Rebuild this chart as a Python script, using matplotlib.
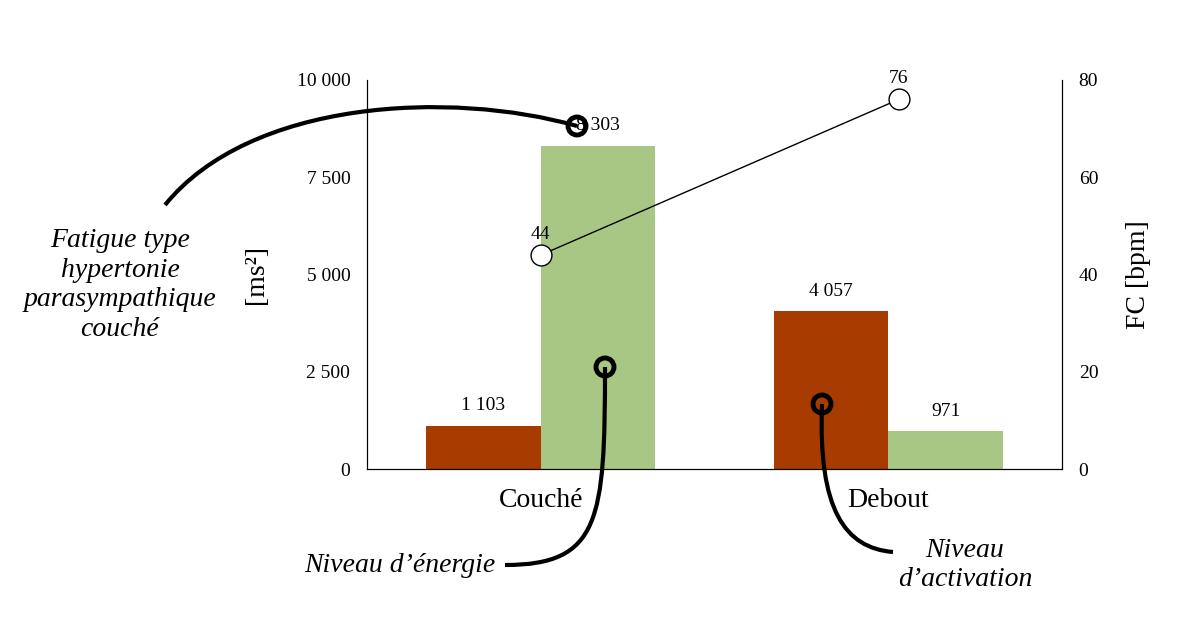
import matplotlib
matplotlib.use("Agg")
import matplotlib.pyplot as plt
from matplotlib.path import Path
from matplotlib.patches import PathPatch, Ellipse

categories = ["Couché", "Debout"]
lf_values = [1103, 4057]
hf_values = [8303, 971]
hr_values = [44, 76]
left_ticks = [0, 2500, 5000, 7500, 10000]
left_labels = ["0", "2 500", "5 000", "7 500", "10 000"]
right_ticks = [0, 20, 40, 60, 80]

plt.rcParams['font.family'] = ['Liberation Serif', 'DejaVu Serif']
W, H = 1200, 618
fig = plt.figure(figsize=(12, 6.18), dpi=100)
ax = fig.add_axes([367/W, 1-469/H, 695/W, 389/H])
x = [0, 1]
bw = 0.33
red, green = "#A83C00", "#A9C784"
ax.bar([i - bw/2 for i in x], lf_values, bw, color=red)
ax.bar([i + bw/2 for i in x], hf_values, bw, color=green)
for i in x:
    ax.text(i - bw/2, lf_values[i] + 300, f"{lf_values[i]:,}".replace(",", " "), ha="center", va="bottom", fontsize=14)
    ax.text(i + bw/2, hf_values[i] + 300, f"{hf_values[i]:,}".replace(",", " "), ha="center", va="bottom", fontsize=14)
ax.set_xlim(-0.5, 1.5)
ax.set_ylim(0, 10000)
ax.set_yticks(left_ticks)
ax.set_yticklabels(left_labels, fontsize=14)
ax.set_xticks(x)
ax.set_xticklabels(categories, fontsize=20)
ax.tick_params(length=0, pad=12)
ax.tick_params(axis='x', pad=14)
ax.spines["top"].set_visible(False)
ax.set_ylabel("[ms²]", fontsize=20, labelpad=20)

ax2 = ax.twinx()
ax2.plot([0, 1.03], hr_values, color="black", lw=1, marker="o", ms=15, mfc="white", mec="black", zorder=5)
for xi, v in zip([0, 1.03], hr_values):
    ax2.text(xi, v + 2.5, str(v), ha="center", va="bottom", fontsize=14)
ax2.set_ylim(0, 80)
ax2.set_yticks(right_ticks)
ax2.tick_params(length=0, labelsize=14, pad=12)
ax2.spines["top"].set_visible(False)
ax2.set_ylabel("FC [bpm]", fontsize=20, labelpad=20)

def P(px, py):
    return (px / W, 1 - py / H)

def curve(pts, circ):
    verts = [P(*p) for p in pts]
    path = Path(verts, [Path.MOVETO, Path.CURVE4, Path.CURVE4, Path.CURVE4])
    fig.add_artist(PathPatch(path, fc="none", ec="black", lw=3, transform=fig.transFigure))
    fig.add_artist(Ellipse(P(*circ), 18/W, 18/H, fc="none", ec="black", lw=3.5, transform=fig.transFigure))

curve([(577, 126), (450, 90), (250, 100), (165, 205)], (577, 126))
curve([(605, 367), (605, 520), (600, 565), (505, 565)], (605, 367))
curve([(822, 404), (818, 510), (845, 548), (893, 552)], (822, 404))

fig.text(*P(120, 285), "Fatigue type\nhypertonie\nparasympathique\ncouché", ha="center", va="center",
         fontsize=20, style="italic", linespacing=1.25)
fig.text(*P(400, 566), "Niveau d’énergie", ha="center", va="center", fontsize=20, style="italic")
fig.text(*P(965, 565), "Niveau\nd’activation", ha="center", va="center", fontsize=20, style="italic", linespacing=1.25)

fig.savefig("out.png", dpi=100)
